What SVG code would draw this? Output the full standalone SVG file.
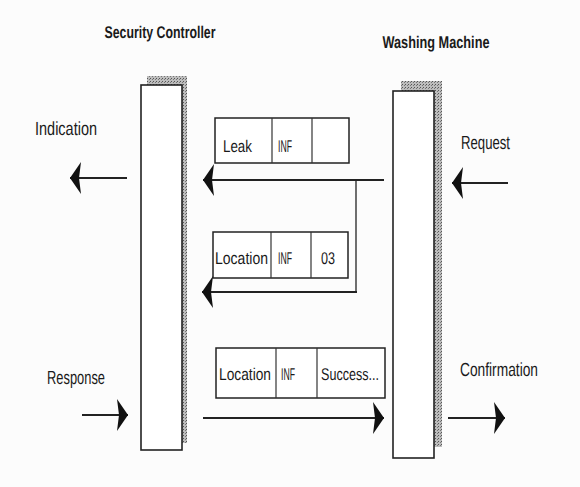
<svg xmlns="http://www.w3.org/2000/svg" width="580" height="487" viewBox="0 0 580 487">
<defs>
<marker id="ah" markerUnits="userSpaceOnUse" markerWidth="12" markerHeight="34" viewBox="0 0 12 34" refX="11" refY="17" orient="auto">
<path d="M0,1 L11,17 L0,33 L2,17 z" fill="#111"/>
</marker>
<pattern id="dots" width="3" height="3" patternUnits="userSpaceOnUse">
<rect width="3" height="3" fill="#bdbdbd"/>
<rect width="1" height="1" fill="#555"/>
<rect x="2" y="1" width="1" height="1" fill="#777"/>
</pattern>
</defs>
<style>
.bg{fill:#fcfcfc}
.t{font-family:"Liberation Sans",Arial,sans-serif;fill:#1a1a1a;text-rendering:geometricPrecision}
.title{font-size:17px;font-weight:bold}
.lbl{font-size:19px}
.cell{font-size:17px}
.box{fill:#fff;stroke:#222;stroke-width:1.6}
.shadow{fill:url(#dots)}
.msg{fill:#fff;stroke:#222;stroke-width:1.5}
.div{stroke:#333;stroke-width:1.2}
.ar{stroke:#222;stroke-width:2;fill:none;marker-end:url(#ah)}
.ln{stroke:#333;stroke-width:1.4;fill:none}
</style>
<rect class="bg" width="580" height="487"/>

<g id="security-controller">
<text class="t title" x="160" y="38" text-anchor="middle" textLength="111" lengthAdjust="spacingAndGlyphs">Security Controller</text>
<rect class="shadow" x="147" y="76" width="40" height="367"/>
<rect class="box" x="141" y="85" width="41" height="365"/>
</g>

<g id="washing-machine">
<text class="t title" x="436" y="48" text-anchor="middle" textLength="107" lengthAdjust="spacingAndGlyphs">Washing Machine</text>
<rect class="shadow" x="401" y="81" width="41" height="366"/>
<rect class="box" x="393" y="91" width="41" height="367"/>
</g>

<g id="msg-leak">
<rect class="msg" x="215" y="118" width="134" height="45"/>
<line class="div" x1="272" y1="118" x2="272" y2="163"/>
<line class="div" x1="312" y1="118" x2="312" y2="163"/>
<text class="t cell" x="223" y="152" textLength="29" lengthAdjust="spacingAndGlyphs">Leak</text>
<text class="t cell" x="278" y="152" textLength="14" lengthAdjust="spacingAndGlyphs">INF</text>
</g>

<g id="msg-location">
<rect class="msg" x="213" y="232" width="135" height="46"/>
<line class="div" x1="271" y1="232" x2="271" y2="278"/>
<line class="div" x1="311" y1="232" x2="311" y2="278"/>
<text class="t cell" x="215" y="264" textLength="53" lengthAdjust="spacingAndGlyphs">Location</text>
<text class="t cell" x="278" y="264" textLength="14" lengthAdjust="spacingAndGlyphs">INF</text>
<text class="t cell" x="321" y="264" textLength="14" lengthAdjust="spacingAndGlyphs">03</text>
</g>

<g id="msg-success">
<rect class="msg" x="216" y="348" width="169" height="50"/>
<line class="div" x1="276" y1="348" x2="276" y2="398"/>
<line class="div" x1="317" y1="348" x2="317" y2="398"/>
<text class="t cell" x="219" y="380" textLength="52" lengthAdjust="spacingAndGlyphs">Location</text>
<text class="t cell" x="281" y="380" textLength="14" lengthAdjust="spacingAndGlyphs">INF</text>
<text class="t cell" x="321" y="380" textLength="58" lengthAdjust="spacingAndGlyphs">Success...</text>
</g>

<g id="indication">
<text class="t lbl" x="35" y="135" textLength="62" lengthAdjust="spacingAndGlyphs">Indication</text>
</g>
<g id="request">
<text class="t lbl" x="461" y="149" textLength="49" lengthAdjust="spacingAndGlyphs">Request</text>
</g>
<g id="response">
<text class="t lbl" x="47" y="384" textLength="58" lengthAdjust="spacingAndGlyphs">Response</text>
</g>
<g id="confirmation">
<text class="t lbl" x="460" y="376" textLength="78" lengthAdjust="spacingAndGlyphs">Confirmation</text>
</g>

<g id="connectors">
<line class="ar" x1="127" y1="178" x2="70" y2="178"/>
<line class="ar" x1="508" y1="183" x2="452" y2="183"/>
<line class="ar" x1="384" y1="180" x2="203" y2="180"/>
<line class="ln" x1="356" y1="181" x2="356" y2="293"/>
<line class="ar" x1="357" y1="292" x2="202" y2="292"/>
<line class="ar" x1="203" y1="418" x2="384" y2="418"/>
<line class="ar" x1="82" y1="415" x2="128" y2="415"/>
<line class="ar" x1="448" y1="418" x2="505" y2="418"/>
</g>
</svg>
